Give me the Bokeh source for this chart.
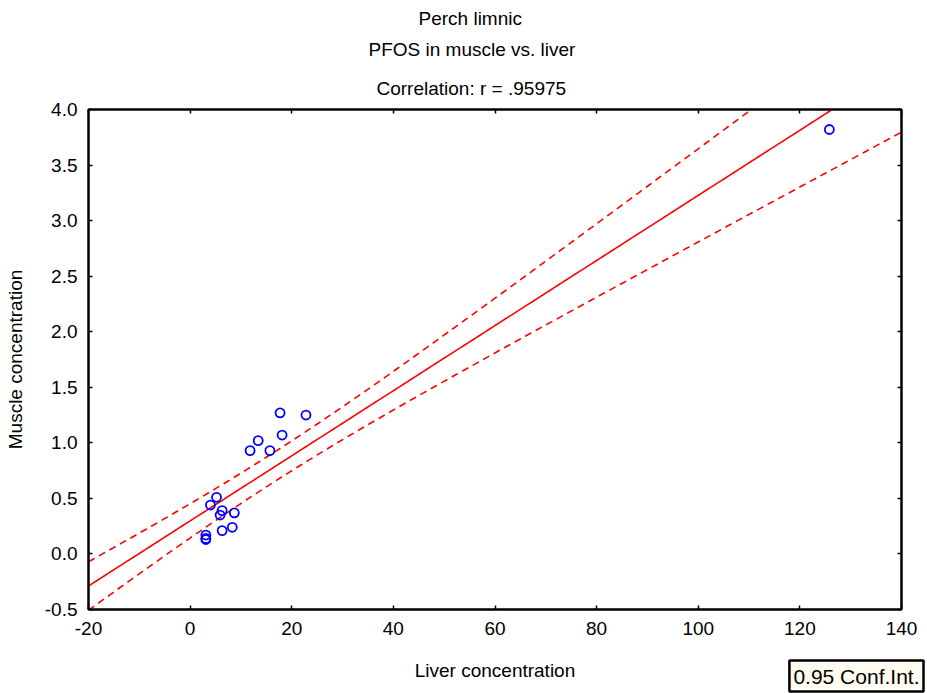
import numpy as np
from bokeh.plotting import figure
from bokeh.models import LinearAxis, Title, FixedTicker, Range1d, CustomJSTickFormatter
from bokeh.embed import file_html
from bokeh.resources import INLINE

# Data
liver = [125.8, 17.7, 22.8, 18.1, 13.4, 11.8, 15.7, 5.2, 4.0, 6.3, 5.9, 8.7, 8.3, 6.3, 3.1, 3.1, 3.1]
muscle = [3.82, 1.27, 1.25, 1.07, 1.02, 0.93, 0.93, 0.51, 0.44, 0.39, 0.35, 0.37, 0.24, 0.21, 0.17, 0.14, 0.13]
x_ticks = [-20, 0, 20, 40, 60, 80, 100, 120, 140]
y_ticks = [-0.5, 0.0, 0.5, 1.0, 1.5, 2.0, 2.5, 3.0, 3.5, 4.0]
title_lines = ["Perch limnic", "PFOS in muscle vs. liver", "Correlation: r = .95975"]
legend_text = "0.95 Conf.Int."
t_crit = 2.131  # t(0.975, df=15)

FONT = "Liberation Sans"
FS = "19px"

# Regression and 95% confidence band
x = np.array(liver)
y = np.array(muscle)
n = len(x)
xm, ym = x.mean(), y.mean()
sxx = ((x - xm) ** 2).sum()
slope = ((x - xm) * (y - ym)).sum() / sxx
icpt = ym - slope * xm
resid = y - (icpt + slope * x)
s = np.sqrt((resid ** 2).sum() / (n - 2))
xs = np.linspace(-20, 140, 200)
yhat = icpt + slope * xs
hw = t_crit * s * np.sqrt(1.0 / n + (xs - xm) ** 2 / sxx)

p = figure(width=927, height=693, output_backend="svg", toolbar_location=None,
           x_range=Range1d(-20, 140), y_range=Range1d(-0.5, 4.0),
           min_border_left=88, min_border_right=26, min_border_top=109, min_border_bottom=84,
           x_axis_label="Liver concentration", y_axis_label="Muscle concentration")
p.background_fill_color = "white"
p.border_fill_color = "white"
p.outline_line_color = "black"
p.outline_line_width = 2
p.xgrid.visible = False
p.ygrid.visible = False

p.line(xs, yhat, color="red", line_width=1.6)
p.line(xs, yhat + hw, color="red", line_width=1.6, line_dash="7 5")
p.line(xs, yhat - hw, color="red", line_width=1.6, line_dash="7 5")
p.scatter(liver, muscle, size=9, fill_color=None, line_color="blue", line_width=1.8)

def style(ax, ticks, labels=True):
    ax.ticker = FixedTicker(ticks=ticks)
    ax.minor_tick_line_color = None
    ax.major_tick_in = 4
    ax.major_tick_out = 0
    ax.major_tick_line_width = 1.5
    ax.axis_line_width = 2
    ax.axis_line_color = "black"
    ax.major_tick_line_color = "black"
    ax.major_label_text_font = FONT
    ax.major_label_text_font_size = FS
    ax.major_label_text_color = "black"
    ax.axis_label_text_font = FONT
    ax.axis_label_text_font_size = FS
    ax.axis_label_text_font_style = "normal"
    ax.axis_label_text_color = "black"
    if not labels:
        ax.formatter = CustomJSTickFormatter(code="return '';")
        ax.major_label_standoff = 0

style(p.xaxis[0], x_ticks)
style(p.yaxis[0], y_ticks)
p.xaxis[0].formatter = CustomJSTickFormatter(code="return tick.toString();")
p.yaxis[0].formatter = CustomJSTickFormatter(code="return tick.toFixed(1);")
p.xaxis[0].major_label_standoff = 12
p.xaxis[0].axis_label_standoff = 22
p.yaxis[0].major_label_standoff = 11
p.yaxis[0].axis_label_standoff = 16

top = LinearAxis()
style(top, x_ticks, labels=False)
p.add_layout(top, "above")
right = LinearAxis()
style(right, y_ticks, labels=False)
p.add_layout(right, "right")

# Title lines, centred on the figure (not the frame); innermost first
title_offsets = [330, 280, 288]
title_standoffs = [6, 11, 21]
for txt, off, so in zip(title_lines[::-1], title_offsets[::-1], title_standoffs[::-1]):
    p.add_layout(Title(text=txt, align="left", offset=off, text_font=FONT,
                       text_font_size=FS, text_font_style="normal",
                       text_color="black", standoff=so), "above")

# Legend box
p.add_layout(Title(text=legend_text, align="right", vertical_align="top", offset=-22,
                   text_font=FONT, text_font_size="21px", text_font_style="normal",
                   text_color="black", background_fill_color="#FFFBF0",
                   border_line_color="black", border_line_width=2.5, padding=4,
                   standoff=-46), "below")

open("out.html", "w").write(file_html(p, INLINE))
